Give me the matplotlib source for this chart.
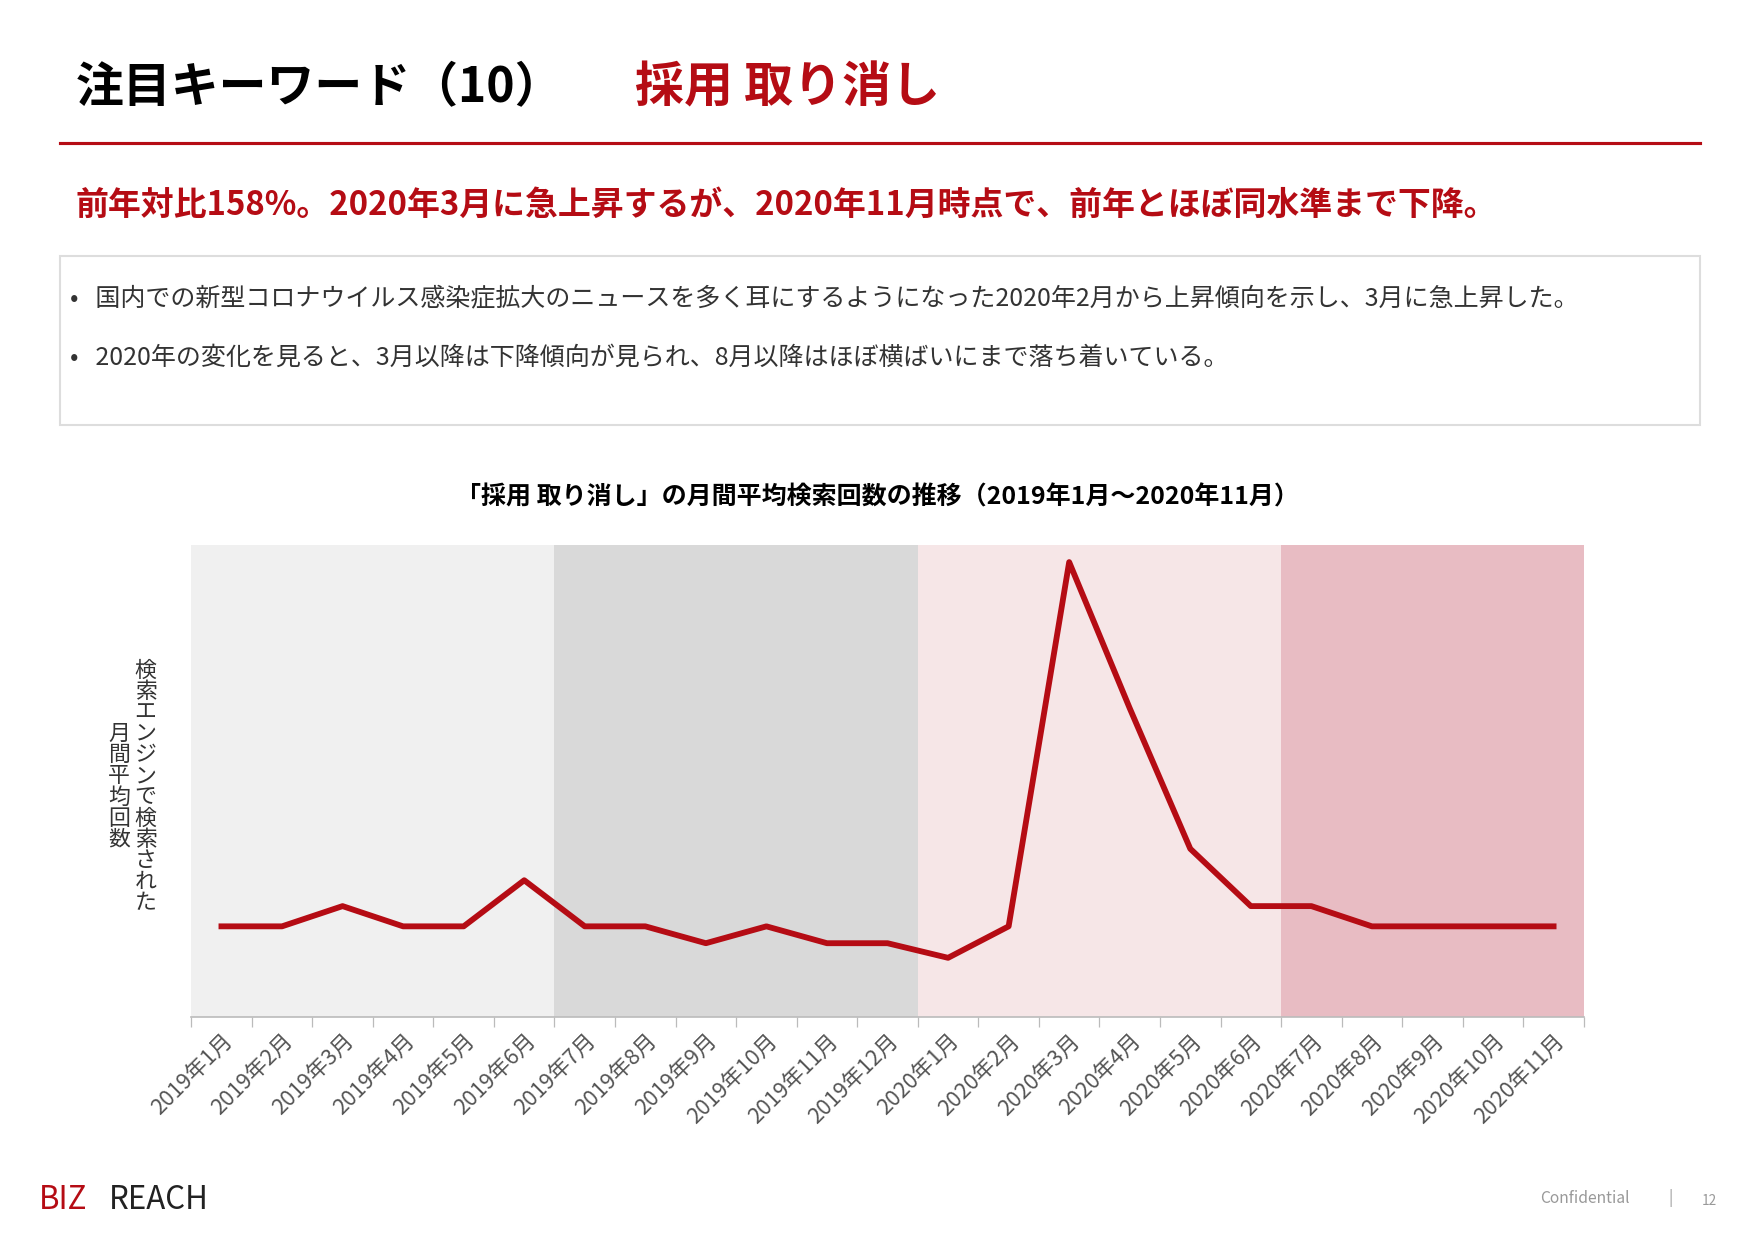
import matplotlib
matplotlib.use("Agg")
import matplotlib.pyplot as plt
from matplotlib.patches import Rectangle

plt.rcParams['font.family'] = 'Noto Sans CJK JP'

months = ["2019年%d月" % m for m in range(1, 13)] + ["2020年%d月" % m for m in range(1, 12)]
values = [81, 81, 99, 81, 81, 122, 81, 81, 66, 81, 66, 66,
          53, 81, 405, 275, 150, 99, 99, 81, 81, 81, 81]
band_edges = [-0.5, 5.5, 11.5, 17.5, 22.5]
band_colors = ["#f0f0f0", "#d9d9d9", "#f6e6e7", "#e8bcc3"]

RED = "#b50c14"
W, H = 1754, 1240
fig = plt.figure(figsize=(W / 150, H / 150), dpi=150)

def fy(y):  # reference (display) pixel -> figure fraction
    return 1 - y / 1103

# header
fig.text(0.043, fy(78), "注目キーワード（10）", fontsize=23, weight="bold", va="center")
fig.text(0.362, fy(78), "採用 取り消し", fontsize=23.5, weight="bold", color=RED, va="center")
fig.add_artist(plt.Line2D([0.034, 0.969], [fy(127)] * 2, color=RED, lw=1.5))
fig.text(0.043, fy(183), "前年対比158%。2020年3月に急上昇するが、2020年11月時点で、前年とほぼ同水準まで下降。",
         fontsize=15.8, weight="bold", color=RED, va="center")

# note box
fig.add_artist(Rectangle((0.034, fy(378)), 0.935, (378 - 228) / 1103, transform=fig.transFigure,
                         facecolor="white", edgecolor="#dddddd", lw=1))
fig.text(0.04, fy(265), "•   国内での新型コロナウイルス感染症拡大のニュースを多く耳にするようになった2020年2月から上昇傾向を示し、3月に急上昇した。",
         fontsize=12, va="center", color="#333333")
fig.text(0.04, fy(318), "•   2020年の変化を見ると、3月以降は下降傾向が見られ、8月以降はほぼ横ばいにまで落ち着いている。",
         fontsize=12, va="center", color="#333333")

fig.text(0.5, fy(442), "「採用 取り消し」の月間平均検索回数の推移（2019年1月～2020年11月）",
         fontsize=12, weight="bold", ha="center", va="center")

ax = fig.add_axes([0.109, fy(905), 0.794, (905 - 485) / 1103])
for i, c in enumerate(band_colors):
    ax.axvspan(band_edges[i], band_edges[i + 1], color=c, lw=0)
x = list(range(len(months)))
ax.plot(x, values, color=RED, lw=2.8)
ax.set_xlim(-0.5, 22.5)
ax.set_ylim(0, 420)
ax.set_yticks([])
ax.set_xticks(x)
ax.set_xticklabels(months, rotation=45, ha="right", rotation_mode="anchor", fontsize=10.5, color="#555555")
ax.set_xticks([i + 0.5 for i in range(-1, 23)], minor=True)
ax.tick_params(axis="x", which="major", length=0, pad=6)
ax.tick_params(axis="x", which="minor", length=5, color="#bbbbbb")
for s in ["top", "right", "left"]:
    ax.spines[s].set_visible(False)
ax.spines["bottom"].set_color("#bbbbbb")

fig.text(0.083, fy(700), "検\n索\nエ\nン\nジ\nン\nで\n検\n索\nさ\nれ\nた", fontsize=10.5, ha="center", va="center",
         linespacing=0.95, color="#333333")
fig.text(0.068, fy(700), "月\n間\n平\n均\n回\n数", fontsize=10.5, ha="center", va="center",
         linespacing=0.95, color="#333333")

# footer
fig.text(0.022, fy(1067), "BIZ", fontsize=15, color=RED, va="center")
fig.text(0.062, fy(1067), "REACH", fontsize=15, color="#222222", va="center")
fig.text(0.878, fy(1066), "Confidential", fontsize=7.5, color="#999999", va="center")
fig.text(0.951, fy(1066), "|", fontsize=7.5, color="#999999", va="center")
fig.text(0.97, fy(1068), "12", fontsize=6.5, color="#999999", va="center")

fig.savefig("out.png", dpi=150, facecolor="white")
